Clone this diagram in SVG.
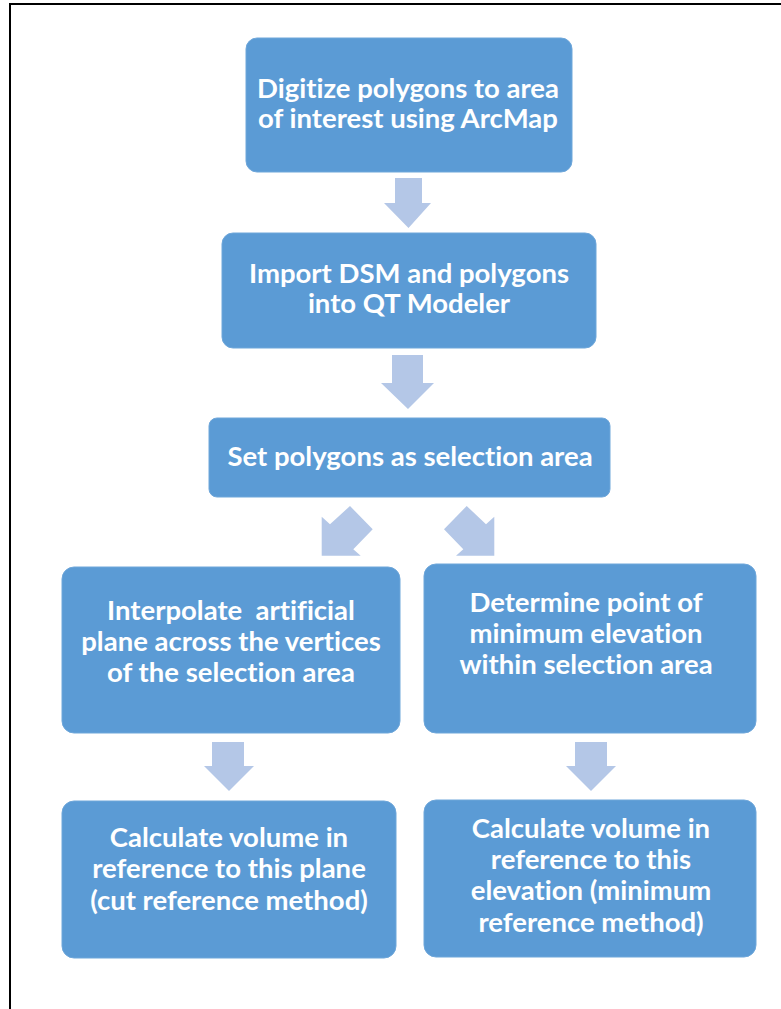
<svg xmlns="http://www.w3.org/2000/svg" width="781" height="1009" viewBox="0 0 781 1009">
  <style>
    .box { fill: #5B9BD5; stroke: #6FA7DA; stroke-width: 1; }
    .arrow { fill: #B4C7E7; }
    .label { font-family: Lato, "Open Sans", "Liberation Sans", sans-serif; font-weight: bold; font-size: 27.5px; fill: #FFFFFF; text-anchor: middle; white-space: pre; font-variant-ligatures: none; }
    .frame { stroke: #000000; stroke-width: 2; fill: none; }
  </style>
  <rect x="0" y="0" width="781" height="1009" fill="#FFFFFF"/>
  <!-- page frame -->
  <path class="frame" d="M10,1009 V4 H781"/>

  <g id="connectors">
    <!-- straight down arrows -->
    <polygon class="arrow" points="395,178 422,178 422,203 431,203 408.5,228 384,203 395,203"/>
    <polygon class="arrow" points="392,355 423,355 423,383 434,383 408,409 381,383 392,383"/>
    <polygon class="arrow" points="212,742 244,742 244,766 254,766 229,791 204,766 212,766"/>
    <polygon class="arrow" points="575,742 607,742 607,766 616,766 591,791 566,766 575,766"/>
    <!-- diagonal split arrows -->
    <polygon class="arrow" points="321.7,516.7 330,524.3 350,506 372.7,529.3 353.3,549.3 360.7,555.7 321.7,555.7"/>
    <polygon class="arrow" points="494.3,516.7 486,524.3 466.7,506 444,529.3 463.3,549.3 456,555.7 494.3,555.7"/>
  </g>

  <g id="node-digitize">
    <rect class="box" x="246" y="38" width="326" height="134" rx="11"/>
    <text class="label" x="408" y="98">Digitize polygons to area</text>
    <text class="label" x="408" y="128">of interest using ArcMap</text>
  </g>

  <g id="node-import">
    <rect class="box" x="222" y="233" width="374" height="115" rx="11"/>
    <text class="label" x="409" y="283">Import DSM and polygons</text>
    <text class="label" x="409" y="313">into QT Modeler</text>
  </g>

  <g id="node-selection">
    <rect class="box" x="209" y="418" width="401" height="79" rx="8"/>
    <text class="label" x="410" y="466">Set polygons as selection area</text>
  </g>

  <g id="node-interpolate">
    <rect class="box" x="62" y="567" width="338" height="166" rx="12"/>
    <text class="label" x="231" y="620">Interpolate  artificial</text>
    <text class="label" x="231" y="651">plane across the vertices</text>
    <text class="label" x="231" y="682">of the selection area</text>
  </g>

  <g id="node-minimum">
    <rect class="box" x="424" y="564" width="332" height="169" rx="12"/>
    <text class="label" x="586" y="612">Determine point of</text>
    <text class="label" x="586" y="643">minimum elevation</text>
    <text class="label" x="586" y="674">within selection area</text>
  </g>

  <g id="node-cut-volume">
    <rect class="box" x="62" y="801" width="334" height="157" rx="12"/>
    <text class="label" x="229" y="847">Calculate volume in</text>
    <text class="label" x="229" y="878">reference to this plane</text>
    <text class="label" x="229" y="910">(cut reference method)</text>
  </g>

  <g id="node-min-volume">
    <rect class="box" x="424" y="800" width="332" height="157" rx="12"/>
    <text class="label" x="591" y="838">Calculate volume in</text>
    <text class="label" x="591" y="869">reference to this</text>
    <text class="label" x="591" y="900">elevation (minimum</text>
    <text class="label" x="591" y="932">reference method)</text>
  </g>
</svg>
